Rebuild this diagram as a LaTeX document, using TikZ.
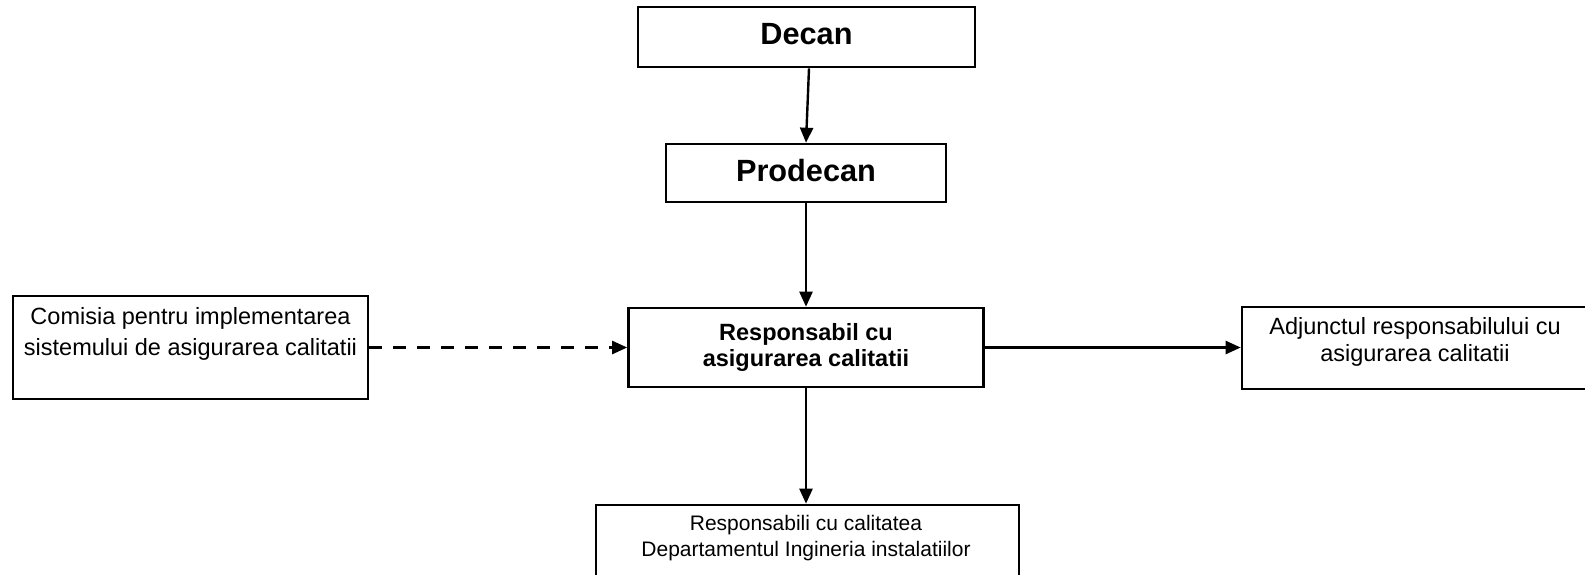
\documentclass[tikz,border=0pt]{standalone}
\usepackage{fontspec}
\setmainfont{Liberation Sans}
\usetikzlibrary{arrows.meta}
\begin{document}
\begin{tikzpicture}[x=1pt,y=-1pt,
  box/.style={draw=black, line width=2.6pt, inner sep=0pt, rectangle},
  txt/.style={align=center, inner sep=0pt, font=\fontsize{23.5}{30}\selectfont},
  conn/.style={line width=2.4pt, -{Triangle[length=15pt,width=13pt]}},
  dashconn/.style={conn, dash pattern=on 13pt off 11pt}]
\useasboundingbox (0,0) rectangle (1585,574);
\clip (0,0) rectangle (1585,574);
\fill[white] (0,0) rectangle (1585,574);
\node[box, minimum width=337pt, minimum height=60pt, text depth=7pt, font=\bfseries\fontsize{30.7}{36}\selectfont] (decan) at (806.5,37) {Decan};
\node[box, minimum width=280pt, minimum height=58pt, text depth=6pt, font=\bfseries\fontsize{30.7}{36}\selectfont] (prodecan) at (806,173) {Prodecan};
\node[box, minimum width=355pt, minimum height=79pt, align=center, font=\bfseries\fontsize{23.5}{26.5}\selectfont] (resp) at (806,347.5) {Responsabil cu\\asigurarea calitatii};
\node[box, minimum width=355pt, minimum height=103pt] (com) at (190.5,347.5) {};
\node[txt, font=\fontsize{23.5}{30.5}\selectfont] (comt) at (190.5,334) {Comisia pentru implementarea\\sistemului de asigurarea calitatii};
\node[box, minimum width=356pt, minimum height=82pt] (adj) at (1420,348) {};
\node[txt, font=\fontsize{23.5}{26.5}\selectfont] (adjt) at (1415,342) {Adjunctul responsabilului cu\\asigurarea calitatii};
\node[box, minimum width=423pt, minimum height=96pt] (bot) at (807.5,553) {};
\node[txt, font=\fontsize{21}{26}\selectfont] (bott) at (806,538) {Responsabili cu calitatea\\Departamentul Ingineria instalatiilor};
\draw[conn] ([xshift=2.5pt]decan.south) -- (prodecan.north);
\draw[conn] (prodecan.south) -- (prodecan.south |- resp.north);
\draw[conn] (resp.south) -- (resp.south |- bot.north);
\draw[conn] (resp.east) -- (adj.west |- resp.east);
\draw[dashconn] (com.east) -- (resp.west |- com.east);
\end{tikzpicture}
\end{document}
